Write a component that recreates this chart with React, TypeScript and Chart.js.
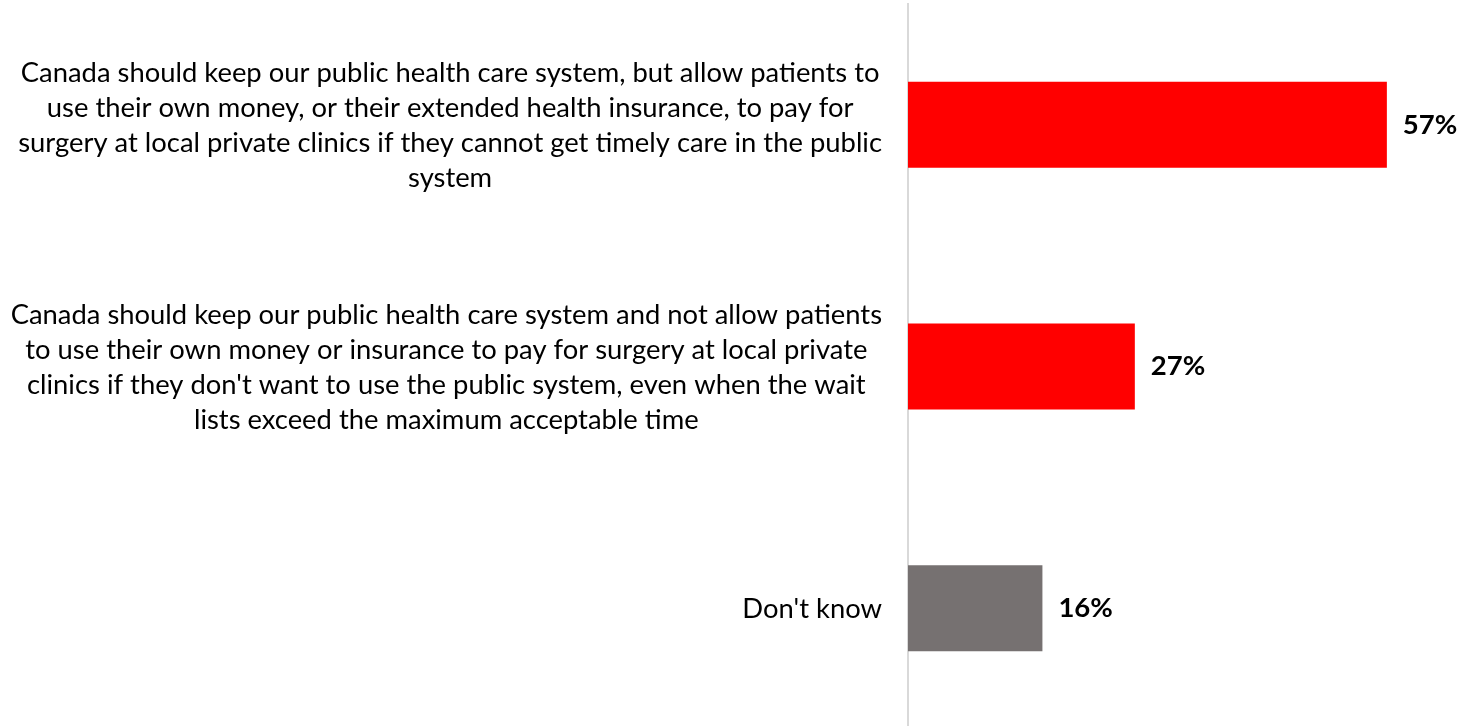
import React, { useEffect, useRef } from "react";
import { Chart, registerables } from "chart.js";

Chart.register(...registerables);

const categories: string[][] = [
  [
    "Canada should keep our public health care system, but allow patients to",
    "use their own money, or their extended health insurance, to pay for",
    "surgery at local private clinics if they cannot get timely care in the public",
    "system",
  ],
  [
    "Canada should keep our public health care system and not allow patients",
    "to use their own money or insurance to pay for surgery at local private",
    "clinics if they don't want to use the public system, even when the wait",
    "lists exceed the maximum acceptable time",
  ],
  ["Don't know"],
];
const values: number[] = [57, 27, 16];
const valueLabels: string[] = ["57%", "27%", "16%"];
const barColors: string[] = ["#FF0000", "#FF0000", "#767171"];

const FONT = "Lato, 'Open Sans', sans-serif";

const labelPlugin = {
  id: "customLabels",
  afterDatasetsDraw(chart: any) {
    const ctx = chart.ctx;
    const yScale = chart.scales.y;
    const area = chart.chartArea;
    ctx.save();
    // category labels
    ctx.font = `27.4px ${FONT}`;
    ctx.fillStyle = "#000000";
    ctx.textAlign = "center";
    ctx.textBaseline = "alphabetic";
    const rightEdge = area.left - 26;
    const lineH = 35;
    const capHalf = 9.5;
    categories.forEach((lines, i) => {
      const cy = yScale.getPixelForTick(i);
      const w = Math.max(...lines.map((l) => ctx.measureText(l).width));
      const cx = rightEdge - w / 2;
      const n = lines.length;
      lines.forEach((line, k) => {
        const y = cy + capHalf + (k - (n - 1) / 2) * lineH;
        ctx.fillText(line, cx, y);
      });
    });
    // value labels
    ctx.font = `bold 27.5px ${FONT}`;
    ctx.textAlign = "left";
    ctx.textBaseline = "middle";
    const meta = chart.getDatasetMeta(0);
    meta.data.forEach((bar: any, i: number) => {
      ctx.fillText(valueLabels[i], bar.x + 16, bar.y);
    });
    ctx.restore();
  },
};

export default function App() {
  const ref = useRef<HTMLCanvasElement | null>(null);
  useEffect(() => {
    document.body.style.margin = "0";
    const canvas = ref.current;
    if (!canvas) return;
    const chart = new Chart(canvas, {
      type: "bar",
      data: {
        labels: categories,
        datasets: [
          {
            data: values,
            backgroundColor: barColors,
            borderWidth: 0,
            categoryPercentage: 1,
            barPercentage: 0.356,
          },
        ],
      },
      options: {
        indexAxis: "y",
        responsive: false,
        animation: false,
        layout: { padding: { left: 908, top: 4, right: 0, bottom: 0 } },
        plugins: {
          legend: { display: false },
          tooltip: { enabled: false },
        },
        scales: {
          x: { display: false, min: 0, max: 66.3 },
          y: {
            display: true,
            ticks: { display: false },
            grid: { display: false, drawTicks: false },
            border: { display: true, color: "#d9d9d9", width: 2 },
          },
        },
      },
      plugins: [labelPlugin],
    });
    return () => chart.destroy();
  }, []);
  return (
    <div style={{ width: 1465, height: 726, overflow: "hidden", background: "#fff" }}>
      <canvas ref={ref} width={1465} height={729} style={{ display: "block" }} />
    </div>
  );
}
